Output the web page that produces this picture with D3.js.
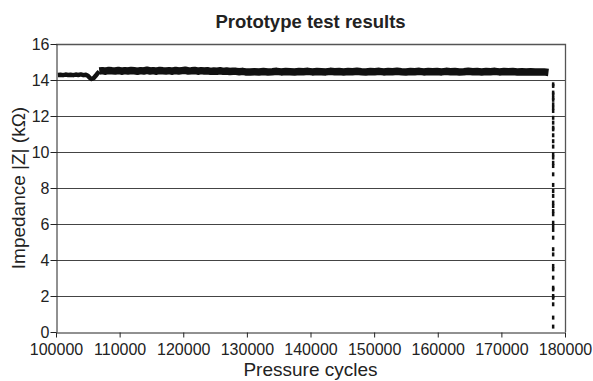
<!DOCTYPE html>
<html><head><meta charset="utf-8">
<script src="https://cdn.jsdelivr.net/npm/d3@7"></script>
<style>body{margin:0;background:#fff}svg{display:block}text{font-family:"Liberation Sans",Arial,sans-serif;fill:#222}</style>
</head><body><svg id="c" width="593" height="381"></svg>
<script>
const title = "Prototype test results";
const xLabel = "Pressure cycles";
const yLabel = "Impedance |Z| (kΩ)";
const xTicks = [100000,110000,120000,130000,140000,150000,160000,170000,180000];
const yTicks = [0,2,4,6,8,10,12,14,16];
// early trace, before the step (cycles, impedance kΩ)
const cyclesEarly = [100300,100700,101100,101500,101900,102300,102700,103100,103500,103900,104300,104700,105000,105300,105600,105900,106200,106500,106800];
const impedanceEarly = [14.28,14.29,14.27,14.30,14.28,14.29,14.27,14.30,14.28,14.31,14.27,14.29,14.24,14.12,14.06,14.1,14.22,14.36,14.47];
// main trace after the step
const cycles = [106800,107300,107800,108300,108800,109300,109800,110300,110800,111300,111800,112300,112800,113300,113800,114300,114800,115300,115800,116300,116800,117300,117800,118300,118800,119300,119800,120300,120800,121300,121800,122300,122800,123300,123800,124300,124800,125300,125800,126300,126800,127300,127800,128300,128800,129300,129800,
130500,131200,131900,132600,133300,134000,134700,135400,136100,136800,137500,138200,138900,139600,140300,141000,141700,142400,143100,143800,144500,145200,145900,146600,147300,148000,148700,149400,150100,150800,151500,152200,152900,153600,154300,155000,155700,156400,157100,157800,158500,159200,159900,160600,161300,162000,162700,163400,164100,164800,165500,166200,166900,167600,168300,169000,169700,170400,171100,171800,172500,173200,173900,174600,175300,176000,176700,177400,178200];
const impedance = [14.5,14.52,14.49,14.53,14.51,14.5,14.53,14.49,14.52,14.5,14.53,14.51,14.49,14.52,14.5,14.54,14.5,14.52,14.49,14.53,14.51,14.5,14.52,14.49,14.53,14.5,14.52,14.54,14.5,14.51,14.53,14.49,14.52,14.5,14.51,14.48,14.5,14.49,14.51,14.48,14.5,14.47,14.49,14.48,14.46,14.48,14.45,
14.44,14.46,14.45,14.47,14.45,14.46,14.48,14.45,14.47,14.46,14.44,14.47,14.46,14.48,14.45,14.47,14.46,14.45,14.48,14.46,14.47,14.45,14.47,14.46,14.48,14.46,14.45,14.47,14.46,14.48,14.45,14.47,14.46,14.48,14.46,14.45,14.47,14.46,14.48,14.45,14.47,14.46,14.47,14.45,14.48,14.46,14.47,14.45,14.46,14.48,14.46,14.47,14.45,14.47,14.46,14.48,14.45,14.47,14.46,14.47,14.45,14.46,14.44,14.46,14.45,14.44,14.45,14.42];
// failure drop: readings at the final cycle count
const failCycle = 178100;
const failValues = [13.76,13.67,13.3,13.2,13.0,12.9,12.65,12.46,12.28,11.9,11.63,11.35,11.26,10.93,10.6,10.3,9.87,9.69,9.4,9.22,8.76,8.17,7.83,7.56,7.19,7.0,6.72,6.54,6.07,5.89,5.67,5.24,4.6,4.31,3.67,3.48,3.02,2.46,2.37,2.0,1.9,1.54,0.8,0.3];

const svg = d3.select("#c");
const m = {l:56, r:565, t:44, b:332};
const x = d3.scaleLinear().domain([100000,180000]).range([m.l,m.r]);
const y = d3.scaleLinear().domain([0,16]).range([m.b,m.t]);

// gridlines
svg.append("g").selectAll("line").data(yTicks.filter(d=>d>0&&d<16)).join("line")
  .attr("x1",m.l).attr("x2",m.r).attr("y1",d=>y(d)+0.5).attr("y2",d=>y(d)+0.5)
  .attr("stroke","#444").attr("stroke-width",1);
// border top/right
svg.append("path").attr("d",`M${m.l},${m.t+0.5}H${m.r+0.5}V${m.b}`).attr("fill","none").attr("stroke","#555").attr("stroke-width",1.3);

// axes
const gx = svg.append("g").attr("transform",`translate(0,${m.b+0.5})`)
  .call(d3.axisBottom(x).tickValues(xTicks).tickFormat(d3.format("d")).tickSize(5).tickSizeOuter(0));
const gy = svg.append("g").attr("transform",`translate(${m.l+0.5},0)`)
  .call(d3.axisLeft(y).tickValues(yTicks).tickFormat(d3.format("d")).tickSize(6).tickSizeOuter(0));
[gx,gy].forEach(g=>{g.select(".domain").attr("stroke","#222");g.selectAll(".tick line").attr("stroke","#222");
  g.selectAll("text").attr("font-size",16).attr("font-family","Liberation Sans, Arial, sans-serif").attr("fill","#222");});
gx.selectAll("text").attr("dy","0.9em");
gy.selectAll("text").attr("x",-7);

const line = d3.line().x(d=>x(d[0])).y(d=>y(d[1]));
// traces
svg.append("path").datum(cyclesEarly.map((c,i)=>[c,impedanceEarly[i]])).attr("fill","none").attr("stroke","#111")
  .attr("stroke-width",4.5).attr("stroke-linejoin","round").attr("d",line);
svg.append("path").datum(cycles.map((c,i)=>[c,impedance[i]])).attr("fill","none").attr("stroke","#111")
  .attr("stroke-width",7.5).attr("stroke-linejoin","round").attr("d",line);
// failure readings
svg.append("g").selectAll("rect").data(failValues).join("rect")
  .attr("x",x(failCycle)-1).attr("y",d=>y(d)-2).attr("width",2.5).attr("height",4).attr("fill","#111");

// titles
svg.append("text").attr("x",(m.l+m.r)/2).attr("y",28).attr("text-anchor","middle")
  .attr("font-size",18.5).attr("font-weight","bold").text(title);
svg.append("text").attr("x",(m.l+m.r)/2).attr("y",376).attr("text-anchor","middle")
  .attr("font-size",19).text(xLabel);
svg.append("text").attr("transform",`translate(25,${(m.t+m.b)/2}) rotate(-90)`).attr("text-anchor","middle")
  .attr("font-size",19).text(yLabel);
</script></body></html>
